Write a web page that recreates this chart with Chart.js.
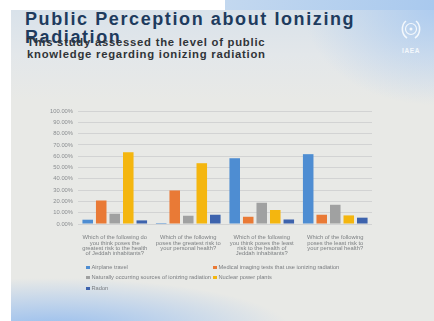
<!DOCTYPE html>
<html>
<head>
<meta charset="utf-8">
<script src="https://cdn.jsdelivr.net/npm/chart.js@4.4.1/dist/chart.umd.min.js"></script>
<style>
  html, body { margin: 0; padding: 0; }
  body { width: 434px; height: 321px; position: relative; overflow: hidden; background: #ffffff;
         font-family: "Liberation Sans", Arial, sans-serif; }
  #topband { position: absolute; left: 225px; top: 0; width: 209px; height: 10px;
             background: linear-gradient(90deg, #c3d8ef, #a9c9ee); }
  #slide { position: absolute; left: 11px; top: 10px; width: 423px; height: 311px; overflow: hidden;
           background:
             radial-gradient(ellipse 240px 52px at 40px 320px, rgba(145,186,238,0.95), rgba(170,200,238,0.6) 55%, rgba(232,233,230,0) 100%),
             radial-gradient(ellipse 130px 95px at 423px 0px, rgba(170,202,240,0.9), rgba(232,233,230,0) 100%),
             linear-gradient(180deg, #d9e2ea 0px, #e3e7ea 45px, #e8e9e6 90px, #e8e9e6 100%); }
  #title { position: absolute; left: 14px; top: 0px; font-weight: bold; font-size: 18px; line-height: 18px;
           letter-spacing: 1.6px; color: #1e3b5e; white-space: nowrap; }
  #subtitle { position: absolute; left: 16px; top: 26px; font-weight: bold; font-size: 11.3px; line-height: 12px;
              letter-spacing: 0.75px; color: #303438; white-space: nowrap; }
  #logo { position: absolute; left: 385px; top: 8px; width: 30px; height: 42px; text-align: center; color: #f4f8fc; }
  #logo span { display: block; font-size: 6.5px; font-weight: bold; letter-spacing: 0.6px; margin-top: 1px; }
  #chart { position: absolute; left: 0; top: 0; }
  #legend { position: absolute; left: 0; top: 0; width: 434px; height: 321px; pointer-events: none; }
  .lg { position: absolute; font-size: 5.7px; color: #7a7d80; white-space: nowrap; line-height: 7px; }
  .lg i { display: inline-block; width: 3.5px; height: 3.5px; margin-right: 2px; vertical-align: 0px; }
</style>
</head>
<body>
<div id="topband"></div>
<div id="slide">
  <div id="title">Public Perception about Ionizing<br>Radiation</div>
  <div id="subtitle">This study assessed the level of public<br>knowledge regarding ionizing radiation</div>
  <div id="logo">
    <svg width="22" height="24" viewBox="0 0 22 24">
      <path d="M6 3 C1 7 1 16 7 20" stroke="#f4f8fc" stroke-width="1.6" fill="none"/>
      <path d="M16 3 C21 7 21 16 15 20" stroke="#f4f8fc" stroke-width="1.6" fill="none"/>
      <circle cx="11" cy="11" r="5.5" stroke="#f4f8fc" stroke-width="1.2" fill="none"/>
      <circle cx="11" cy="11" r="1.5" fill="#f4f8fc"/>
    </svg>
    <span>IAEA</span>
  </div>
</div>
<canvas id="chart" width="434" height="321"></canvas>
<div id="legend"></div>
<script>
// Категории (подписи оси X, по строкам)
const categories = [
  ['Which of the following do', 'you think poses the', 'greatest risk to the health', 'of Jeddah inhabitants?'],
  ['Which of the following', 'poses the greatest risk to', 'your personal health?'],
  ['Which of the following', 'you think poses the least', 'risk to the health of', 'Jeddah inhabitants?'],
  ['Which of the following', 'poses the least risk to', 'your personal health?']
];

const seriesNames = [
  'Airplane travel',
  'Medical imaging tests that use ionizing radiation',
  'Naturally occurring sources of ionizing radiation',
  'Nuclear power plants',
  'Radon'
];
const seriesColors = ['#4e8dd2', '#e97a36', '#a0a1a1', '#f4b60f', '#3d63ad'];

// Значения в процентах
const airplane = [3.8, 0.9, 58.2, 61.8];
const medical  = [20.8, 29.7, 6.4, 8.2];
const natural  = [9.1, 7.3, 18.8, 17.0];
const nuclear  = [63.5, 53.8, 12.4, 7.6];
const radon    = [3.2, 8.2, 4.0, 5.6];

const yTickValues = [0, 10, 20, 30, 40, 50, 60, 70, 80, 90, 100];
const yTickLabels = ['0.00%', '10.00%', '20.00%', '30.00%', '40.00%', '50.00%', '60.00%', '70.00%', '80.00%', '90.00%', '100.00%'];

const seriesValues = [airplane, medical, natural, nuclear, radon];

const ctx = document.getElementById('chart').getContext('2d');
new Chart(ctx, {
  type: 'bar',
  data: {
    labels: categories,
    datasets: seriesValues.map((vals, i) => ({
      label: seriesNames[i],
      data: vals,
      backgroundColor: seriesColors[i],
      borderWidth: 0,
      categoryPercentage: 0.92,
      barPercentage: 0.78
    }))
  },
  options: {
    responsive: false,
    animation: false,
    layout: { padding: { left: 36, right: 62, top: 111, bottom: 58 } },
    plugins: { legend: { display: false }, tooltip: { enabled: false } },
    scales: {
      x: {
        grid: { display: false },
        border: { display: false },
        ticks: {
          color: '#7d8083', autoSkip: false, maxRotation: 0, minRotation: 0, padding: 3,
          font: { family: 'Liberation Sans', size: 5.8, lineHeight: 0.92 }
        },
        afterFit: (s) => { s.height = 39; }
      },
      y: {
        min: 0, max: 100,
        grid: { color: '#d2d3d3', lineWidth: 1, drawTicks: false },
        border: { display: false },
        afterBuildTicks: (s) => { s.ticks = yTickValues.map(v => ({ value: v })); },
        ticks: {
          color: '#8a8d90', padding: 5,
          font: { family: 'Liberation Sans', size: 5.8 },
          callback: (v) => yTickLabels[yTickValues.indexOf(v)]
        },
        afterFit: (s) => { s.width = 42; }
      }
    }
  }
});

// Легенда в две колонки
const legend = document.getElementById('legend');
const legendPos = [[86, 264], [213, 264], [86, 274], [213, 274], [86, 285]];
seriesNames.forEach((name, i) => {
  const d = document.createElement('div');
  d.className = 'lg';
  d.style.left = legendPos[i][0] + 'px';
  d.style.top = legendPos[i][1] + 'px';
  d.innerHTML = '<i style="background:' + seriesColors[i] + '"></i>' + name;
  legend.appendChild(d);
});
</script>
</body>
</html>
